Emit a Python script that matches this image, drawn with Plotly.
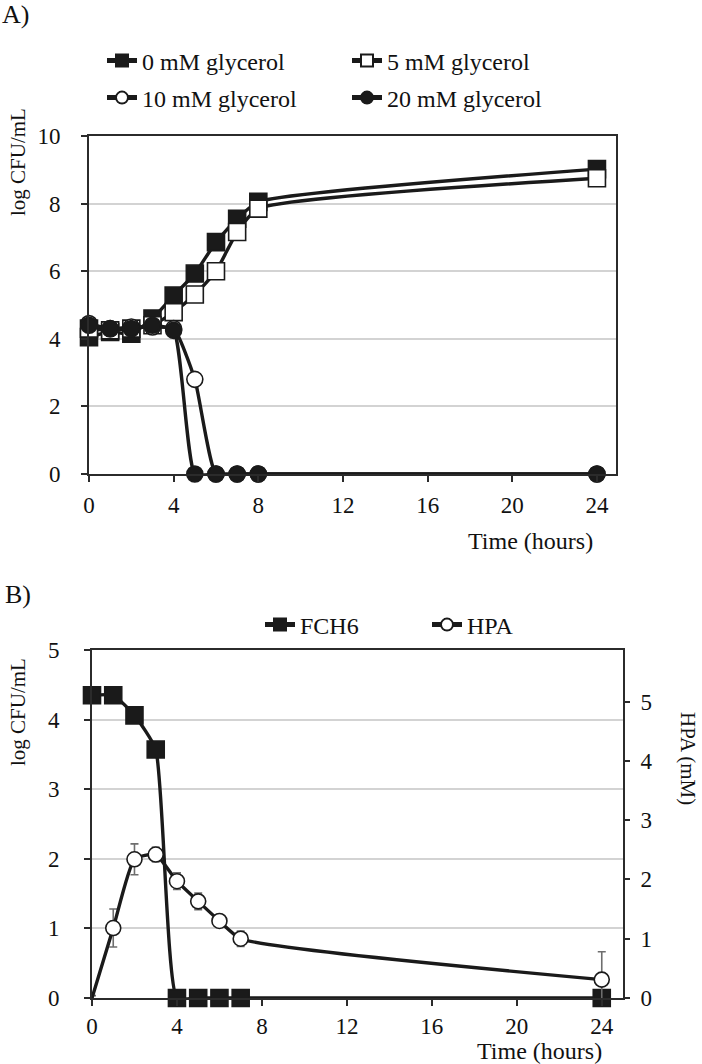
import plotly.graph_objects as go

# ---------------- data ----------------
hours = [0, 1, 2, 3, 4, 5, 6, 7, 8, 24]
gly0 = [4.05, 4.2, 4.15, 4.6, 5.28, 5.93, 6.86, 7.55, 8.05, 9.02]
gly5 = [4.3, 4.25, 4.3, 4.4, 4.79, 5.31, 6.0, 7.16, 7.85, 8.75]
gly10 = [4.45, 4.3, 4.35, 4.35, 4.3, 2.8, 0, 0, 0, 0]
gly20 = [4.4, 4.3, 4.3, 4.4, 4.25, 0, 0, 0, 0, 0]

hours_b = [0, 1, 2, 3, 4, 5, 6, 7, 24]
fch6 = [4.35, 4.35, 4.06, 3.57, 0, 0, 0, 0, 0]
hpa = [0.0, 1.18, 2.34, 2.42, 1.97, 1.63, 1.30, 1.00, 0.31]
hpa_err = [0.04, 0.32, 0.26, 0.12, 0.14, 0.14, 0.10, 0.13, 0.47]

xticks = [0, 4, 8, 12, 16, 20, 24]

# ---------------- style ----------------
W, H = 702, 1064
FONT = "Liberation Serif"
INK = "#1a1a1a"
AX = "#2b2b2b"
GRID = "#d3d3d3"
LW = 3.4

def px(x):
    return x / W

def py(y):
    return 1 - y / H

fig = go.Figure()

def add_series(x, y, name, symbol, fill, size, legend, xa="x", ya="y", **kw):
    fig.add_trace(go.Scatter(
        x=x, y=y, name=name, mode="lines+markers",
        line=dict(color=INK, width=LW, shape="spline", smoothing=0.5),
        marker=dict(symbol=symbol, size=size, color=fill, opacity=1,
                    line=dict(color=INK, width=1.6)),
        xaxis=xa, yaxis=ya, legend=legend, cliponaxis=False, **kw))

add_series(hours, gly0, "0 mM glycerol", "square", INK, 17, "legend")
add_series(hours, gly5, "5 mM glycerol", "square", "white", 17, "legend")
add_series(hours, gly10, "10 mM glycerol", "circle", "white", 16, "legend2")
add_series(hours, gly20, "20 mM glycerol", "circle", INK, 16, "legend2")

add_series(hours_b, fch6, "FCH6", "square", INK, 17, "legend3", xa="x2", ya="y2")
hpa_sizes = [0] + [15] * (len(hpa) - 1)
fig.add_trace(go.Scatter(
    x=hours_b, y=hpa, name="HPA", mode="lines+markers",
    line=dict(color=INK, width=LW, shape="spline", smoothing=0.5),
    marker=dict(symbol="circle", size=hpa_sizes, color="white", opacity=1,
                line=dict(color=INK, width=1.6)),
    error_y=dict(type="data", array=hpa_err, visible=True,
                 color="#6e6e6e", thickness=1.6, width=4),
    xaxis="x2", yaxis="y3", legend="legend3", cliponaxis=False))

tickfont = dict(family=FONT, size=23, color="#111")

axis_common = dict(showline=True, linecolor=AX, linewidth=2, mirror=True,
                   ticks="outside", ticklen=6, tickwidth=1.5, tickcolor=AX,
                   tickfont=tickfont, zeroline=False, automargin=False)

legfont = dict(family=FONT, size=24, color="#111")

fig.update_layout(
    width=W, height=H,
    margin=dict(l=0, r=0, t=0, b=0),
    paper_bgcolor="white", plot_bgcolor="white",
    font=dict(family=FONT, size=22, color="#111"),
    showlegend=True,
    xaxis=dict(domain=[px(89), px(616)], range=[0, 24.9], tickvals=xticks,
               showgrid=False, anchor="y", ticklabelstandoff=3, **axis_common),
    yaxis=dict(domain=[py(474), py(136)], range=[0, 10], dtick=2,
               showgrid=True, gridcolor=GRID, gridwidth=1.5, anchor="x",
               ticklabelstandoff=16, **axis_common),
    xaxis2=dict(domain=[px(92), px(623)], range=[0, 25], tickvals=xticks,
                showgrid=False, anchor="y2", ticklabelstandoff=0, **axis_common),
    yaxis2=dict(domain=[py(998), py(650)], range=[0, 5], dtick=1,
                showgrid=True, gridcolor=GRID, gridwidth=1.5, anchor="x2",
                ticklabelstandoff=20, **axis_common),
    yaxis3=dict(overlaying="y2", side="right", anchor="x2", range=[0, 5.87],
                tickvals=[0, 1, 2, 3, 4, 5], showgrid=False, showline=False,
                ticks="outside", ticklen=6, tickwidth=1.5, tickcolor=AX,
                tickfont=tickfont, zeroline=False, automargin=False,
                ticklabelstandoff=6),
    legend=dict(orientation="h", x=px(102), y=py(61), xanchor="left", yanchor="middle",
                font=legfont, bgcolor="rgba(0,0,0,0)",
                entrywidth=200, itemsizing="constant", traceorder="normal"),
    legend2=dict(orientation="h", x=px(102), y=py(98), xanchor="left", yanchor="middle",
                 font=legfont, bgcolor="rgba(0,0,0,0)",
                 entrywidth=200, itemsizing="constant", traceorder="normal"),
    legend3=dict(orientation="h", x=px(260), y=py(625), xanchor="left", yanchor="middle",
                 font=legfont, bgcolor="rgba(0,0,0,0)",
                 entrywidth=122, itemsizing="constant", traceorder="normal"),
)

ann_font = dict(family=FONT, size=21, color="#111")
title_font = dict(family=FONT, size=24, color="#111")
annotations = [
    dict(text="A)", x=px(0), y=py(14), xanchor="left", yanchor="middle", font=dict(family=FONT, size=26, color="#111")),
    dict(text="B)", x=px(3), y=py(594), xanchor="left", yanchor="middle", font=dict(family=FONT, size=26, color="#111")),
    dict(text="log CFU/mL", x=px(18), y=py(162), textangle=-90, xanchor="center", yanchor="middle", font=ann_font),
    dict(text="log CFU/mL", x=px(18), y=py(712), textangle=-90, xanchor="center", yanchor="middle", font=ann_font),
    dict(text="HPA (mM)", x=px(688), y=py(758), textangle=90, xanchor="center", yanchor="middle", font=ann_font),
    dict(text="Time (hours)", x=px(530), y=py(541), xanchor="center", yanchor="middle", font=title_font),
    dict(text="Time (hours)", x=px(539), y=py(1051), xanchor="center", yanchor="middle", font=title_font),
]
for a in annotations:
    a.update(xref="paper", yref="paper", showarrow=False)
fig.update_layout(annotations=annotations)

fig.write_html("out.html", config={"displayModeBar": False},
               post_script="document.body.style.margin='0';document.body.style.overflow='hidden';")
